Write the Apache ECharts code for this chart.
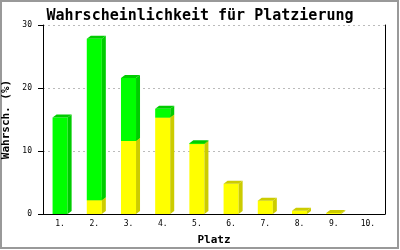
<!DOCTYPE html>
<html><head><meta charset="utf-8">
<script src="https://cdn.jsdelivr.net/npm/echarts@6/dist/echarts.min.js"></script>
<style>html,body{margin:0;padding:0;background:#fff}#c{width:400px;height:250px}</style>
</head><body><div id="c"></div>
<script>
var categories = ['1.', '2.', '3.', '4.', '5.', '6.', '7.', '8.', '9.', '10.'];
var yellowValues = [0, 2.2, 11.6, 15.3, 11.1, 4.8, 2.1, 0.5, 0.15, 0];
var greenValues = [15.3, 25.6, 10.0, 1.4, 0.15, 0, 0, 0, 0, 0];
var yTicks = [0, 10, 20, 30];

var chart = echarts.init(document.getElementById('c'), null, {renderer: 'canvas'});
var mono = 'DejaVu Sans Mono';

function makeData(base, vals) {
  return vals.map(function (v, i) { return [i, base ? base[i] : 0, (base ? base[i] : 0) + v, v]; });
}
function render3d(front, dark) {
  return function (params, api) {
    var v = api.value(3);
    if (!(v > 0)) return;
    var i = api.value(0);
    var p0 = api.coord([i, api.value(1)]);
    var p1 = api.coord([i, api.value(2)]);
    var cw = api.size([1, 0])[0];
    var w = cw * 0.44;
    var dx = 4, dy = 3;
    var xl = p0[0] - w / 2, xr = p0[0] + w / 2;
    var yb = p0[1], yt = p1[1];
    return {
      type: 'group',
      children: [
        {type: 'rect', shape: {x: xl, y: yt, width: w, height: yb - yt}, style: {fill: front}},
        {type: 'polygon', shape: {points: [[xr, yb], [xr + dx, yb - dy], [xr + dx, yt - dy], [xr, yt]]}, style: {fill: dark}},
        {type: 'polygon', shape: {points: [[xl, yt], [xl + dx, yt - dy], [xr + dx, yt - dy], [xr, yt]]}, style: {fill: dark}}
      ]
    };
  };
}

chart.setOption({
  animation: false,
  backgroundColor: '#fff',
  title: {
    text: 'Wahrscheinlichkeit für Platzierung',
    left: 'center', top: 4,
    textStyle: {fontFamily: mono, fontWeight: 'bold', fontSize: 15, color: '#000'}
  },
  grid: {left: 43, right: 15, top: 25, bottom: 36, outerBoundsMode: 'none', containLabel: false},
  xAxis: {
    type: 'category', data: categories,
    name: 'Platz', nameLocation: 'middle', nameGap: 21,
    nameTextStyle: {fontFamily: mono, fontWeight: 'bold', fontSize: 11, color: '#000'},
    axisLine: {lineStyle: {color: '#000', width: 1}},
    axisTick: {show: false},
    axisLabel: {fontFamily: mono, fontSize: 8, color: '#000', margin: 6}
  },
  yAxis: [{
    type: 'value', min: 0, max: 30, interval: 10,
    name: 'Wahrsch. (%)', nameLocation: 'middle', nameGap: 26,
    nameTextStyle: {fontFamily: mono, fontWeight: 'bold', fontSize: 11, color: '#000'},
    axisLine: {show: true, lineStyle: {color: '#000', width: 1}},
    axisTick: {show: true, length: 5, lineStyle: {color: '#000'}},
    axisLabel: {fontFamily: mono, fontSize: 8, color: '#000', margin: 11,
      formatter: function (v) { return yTicks.indexOf(v) >= 0 ? String(v) : ''; }},
    splitLine: {show: true, lineStyle: {color: '#bbb', type: [2, 3]}}
  }, {
    type: 'value', min: 0, max: 30, interval: 10, position: 'right',
    axisLine: {show: true, lineStyle: {color: '#000', width: 1}},
    axisTick: {show: false}, axisLabel: {show: false}, splitLine: {show: false}
  }],
  series: [
    {type: 'custom', renderItem: render3d('#ffff00', '#cccc00'), data: makeData(null, yellowValues), encode: {x: 0, y: [1, 2]}, silent: true},
    {type: 'custom', renderItem: render3d('#00ff00', '#00cc00'), data: makeData(yellowValues, greenValues), encode: {x: 0, y: [1, 2]}, silent: true}
  ],
  graphic: [{
    type: 'rect', shape: {x: 1, y: 1, width: 397, height: 247},
    style: {fill: 'none', stroke: '#999', lineWidth: 2}, silent: true
  }]
});
</script></body></html>
